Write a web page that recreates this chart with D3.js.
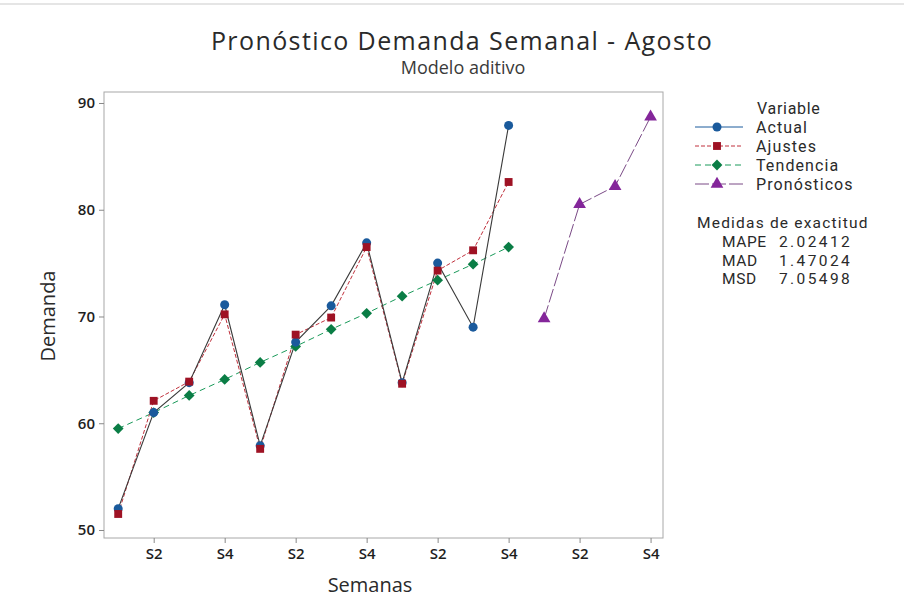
<!DOCTYPE html>
<html>
<head>
<meta charset="utf-8">
<script src="https://cdn.jsdelivr.net/npm/d3@7"></script>
<style>
  html, body { margin: 0; padding: 0; background: #ffffff; }
  svg { display: block; font-family: "Open Sans", "Noto Sans", sans-serif; }
</style>
</head>
<body>
<svg id="chart" width="904" height="609"></svg>
<script>
// Periodos (semanas de cada mes) y etiquetas del eje X
const periods = d3.range(1, 17);
const weekLabels = ["S1","S2","S3","S4","S1","S2","S3","S4","S1","S2","S3","S4","S1","S2","S3","S4"];

// Serie observada y ajustes del modelo (periodos 1-12)
const actualValues  = [52.0, 61.0, 63.8, 71.1, 57.9, 67.6, 71.0, 76.9, 63.8, 75.0, 69.0, 87.9];
const fittedValues  = [51.5, 62.1, 63.9, 70.2, 57.6, 68.3, 69.9, 76.5, 63.7, 74.3, 76.2, 82.6];
const trendValues   = [59.5, 61.0, 62.6, 64.1, 65.7, 67.2, 68.8, 70.3, 71.9, 73.4, 74.9, 76.5];
// Pronósticos (periodos 13-16)
const forecastValues = [69.8, 80.5, 82.2, 88.7];

const yTicks = [50, 60, 70, 80, 90];
const accuracyNames  = ["MAPE", "MAD", "MSD"];
const accuracyValues = ["2.02412", "1.47024", "7.05498"];

const svg = d3.select("#chart");

const frame = { left: 104, right: 663, top: 92, bottom: 538 };
const x = d3.scaleLinear().domain([0.6, 16.35]).range([frame.left, frame.right]);
const y = d3.scaleLinear().domain([49.25, 91.03]).range([frame.bottom, frame.top]);

// top border line of the page
svg.append("line").attr("x1", 0).attr("x2", 904).attr("y1", 4).attr("y2", 4)
  .attr("stroke", "#dcdcdc").attr("stroke-width", 1.5);

// Títulos
svg.append("text").attr("x", 462).attr("y", 50).attr("text-anchor", "middle")
  .attr("font-size", 25).attr("fill", "#2a2a2a").attr("letter-spacing", 1.4)
  .text("Pronóstico Demanda Semanal - Agosto");
svg.append("text").attr("x", 463).attr("y", 74).attr("text-anchor", "middle")
  .attr("font-size", 18).attr("fill", "#3a3a3a")
  .text("Modelo aditivo");

// Marco del gráfico
svg.append("rect").attr("x", frame.left).attr("y", frame.top)
  .attr("width", frame.right - frame.left).attr("height", frame.bottom - frame.top)
  .attr("fill", "#fff").attr("stroke", "#a8a8a8").attr("stroke-width", 1);

// Eje Y
const yAxis = svg.append("g").attr("transform", `translate(${frame.left},0)`)
  .call(d3.axisLeft(y).tickValues(yTicks).tickSize(5).tickPadding(4));
yAxis.select(".domain").remove();
yAxis.selectAll("line").attr("stroke", "#888");
yAxis.selectAll("text").attr("font-size", 15).attr("fill", "#1e1e1e").attr("font-weight", 600)
  .attr("font-family", "'Open Sans', sans-serif");

// Eje X (solo semanas pares)
const evenPeriods = periods.filter(p => p % 2 === 0);
const xAxis = svg.append("g").attr("transform", `translate(0,${frame.bottom})`)
  .call(d3.axisBottom(x).tickValues(evenPeriods).tickSize(5).tickPadding(5)
    .tickFormat(p => weekLabels[p - 1]));
xAxis.select(".domain").remove();
xAxis.selectAll("line").attr("stroke", "#888");
xAxis.selectAll("text").attr("font-size", 15).attr("fill", "#1e1e1e").attr("font-weight", 600)
  .attr("font-family", "'Open Sans', sans-serif");

// Títulos de ejes
svg.append("text").attr("x", 370).attr("y", 592).attr("text-anchor", "middle")
  .attr("font-size", 20).attr("fill", "#2a2a2a").attr("font-weight", 500).text("Semanas");
svg.append("text").attr("transform", "translate(55,316) rotate(-90)")
  .attr("text-anchor", "middle").attr("font-size", 20).attr("fill", "#2a2a2a").attr("font-weight", 500).text("Demanda");

// Series
const toPts = (vals, start) => vals.map((v, i) => ({ p: start + i, v }));
const series = [
  { name: "Tendencia",   pts: toPts(trendValues, 1),     line: "#1a9a5a", dash: "6,4",  width: 1, marker: "diamond",  color: "#0a7d45", size: 58 },
  { name: "Ajustes",     pts: toPts(fittedValues, 1),    line: "#c0303c", dash: "4,2",  width: 1, marker: "square",   color: "#9e1224", size: 62 },
  { name: "Actual",      pts: toPts(actualValues, 1),    line: "#3a3a3a", dash: null,   width: 1.1, marker: "circle", color: "#1a5a9c", size: 64 },
  { name: "Pronósticos", pts: toPts(forecastValues, 13), line: "#7a4a86", dash: "14,3", width: 1, marker: "triangle", color: "#84269a", size: 70 }
];

const symbolType = {
  circle: d3.symbolCircle, square: d3.symbolSquare,
  diamond: d3.symbolSquare, triangle: d3.symbolTriangle
};
// diamonds are squares turned 45 degrees
const markerRotation = m => (m === "diamond" ? " rotate(45)" : "");

const lineGen = d3.line().x(d => x(d.p)).y(d => y(d.v));
const plot = svg.append("g");
series.forEach(s => {
  plot.append("path").datum(s.pts).attr("d", lineGen)
    .attr("fill", "none").attr("stroke", s.line).attr("stroke-width", s.width)
    .attr("stroke-dasharray", s.dash);
});
// markers drawn after all lines, Actual first so fits sit on top
["Tendencia", "Actual", "Ajustes", "Pronósticos"].forEach(n => {
  const s = series.find(d => d.name === n);
  plot.append("g").selectAll("path").data(s.pts).join("path")
    .attr("transform", d => `translate(${x(d.p)},${y(d.v)})${markerRotation(s.marker)}`)
    .attr("d", d3.symbol().type(symbolType[s.marker]).size(s.size))
    .attr("fill", s.color);
});

// Leyenda (tighter line metrics so the rows stay apart)
const legendFont = "Roboto, 'Open Sans', sans-serif";
const legend = svg.append("g").attr("font-family", legendFont);
legend.append("text").attr("x", 757).attr("y", 114).attr("font-size", 16)
  .attr("letter-spacing", 0.7).attr("fill", "#2a2a2a").text("Variable");
const legendOrder = ["Actual", "Ajustes", "Tendencia", "Pronósticos"];
legendOrder.forEach((n, i) => {
  const s = series.find(d => d.name === n);
  const cy = 127 + i * 19;
  legend.append("line").attr("x1", 695).attr("x2", 743).attr("y1", cy).attr("y2", cy)
    .attr("stroke", s.marker === "circle" ? s.color : s.line).attr("stroke-width", 1)
    .attr("stroke-dasharray", s.dash);
  legend.append("path").attr("transform", `translate(717,${cy})${markerRotation(s.marker)}`)
    .attr("d", d3.symbol().type(symbolType[s.marker]).size(s.size)).attr("fill", s.color);
  legend.append("text").attr("x", 756).attr("y", cy + 6).attr("font-size", 16)
    .attr("letter-spacing", 1.1).attr("fill", "#2a2a2a").text(n);
});

// Medidas de exactitud
legend.append("text").attr("x", 697).attr("y", 228).attr("font-size", 15.5)
  .attr("letter-spacing", 1.2).attr("fill", "#2a2a2a").text("Medidas de exactitud");
accuracyNames.forEach((n, i) => {
  const cy = 247 + i * 18.5;
  legend.append("text").attr("x", 722).attr("y", cy).attr("font-size", 15.5)
    .attr("letter-spacing", 0.6).attr("fill", "#2a2a2a").text(n);
  legend.append("text").attr("x", 779).attr("y", cy).attr("font-size", 15.5)
    .attr("letter-spacing", 2.4).attr("fill", "#2a2a2a").text(accuracyValues[i]);
});
</script>
</body>
</html>
